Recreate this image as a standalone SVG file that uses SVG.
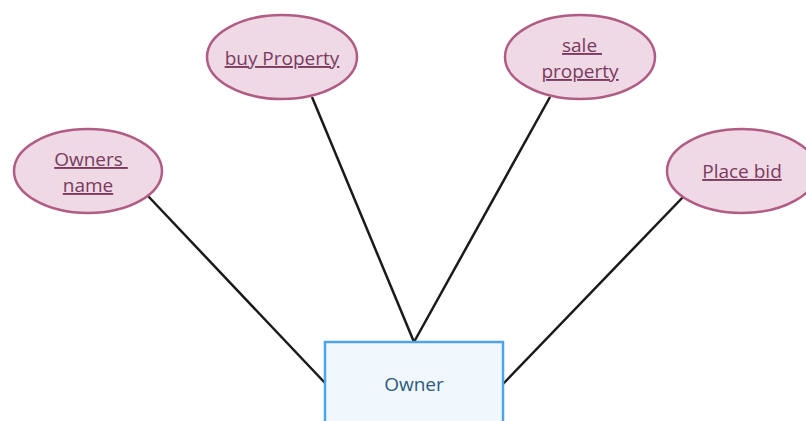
<svg xmlns="http://www.w3.org/2000/svg" width="806" height="421" viewBox="0 0 806 421">
<style>
.attr ellipse{fill:#eed9e5;stroke:#b15c85;stroke-width:2.5}
.attr text{font-family:"Open Sans","Noto Sans",sans-serif;font-size:19px;fill:#7b3a5e;text-anchor:middle;text-decoration:underline}
.ent rect{fill:#f0f7fd;stroke:#4ea4e6;stroke-width:2.5}
.ent text{font-family:"Open Sans","Noto Sans",sans-serif;font-size:19px;fill:#2e5a80;text-anchor:middle}
.conn line{stroke:#1a1a1a;stroke-width:2.5}
</style>
<rect width="806" height="421" fill="#ffffff"/>
<g class="conn" id="connectors">
<line x1="148" y1="196" x2="326" y2="384"/>
<line x1="312" y1="97" x2="414" y2="342"/>
<line x1="550" y1="97" x2="414" y2="342"/>
<line x1="684" y1="196" x2="503" y2="384"/>
</g>
<g class="attr" id="owners-name">
<ellipse cx="88" cy="171" rx="74" ry="42"/>
<text x="91" y="166" xml:space="preserve">Owners </text>
<text x="88" y="192">name</text>
</g>
<g class="attr" id="buy-property">
<ellipse cx="282" cy="57" rx="75" ry="42"/>
<text x="282" y="65">buy Property</text>
</g>
<g class="attr" id="sale-property">
<ellipse cx="580" cy="57" rx="75" ry="42"/>
<text x="582" y="52" xml:space="preserve">sale </text>
<text x="580" y="78">property</text>
</g>
<g class="attr" id="place-bid">
<ellipse cx="742" cy="171" rx="75" ry="42"/>
<text x="742" y="178">Place bid</text>
</g>
<g class="ent" id="owner">
<rect x="325" y="342" width="178" height="86"/>
<text x="414" y="391">Owner</text>
</g>
</svg>
